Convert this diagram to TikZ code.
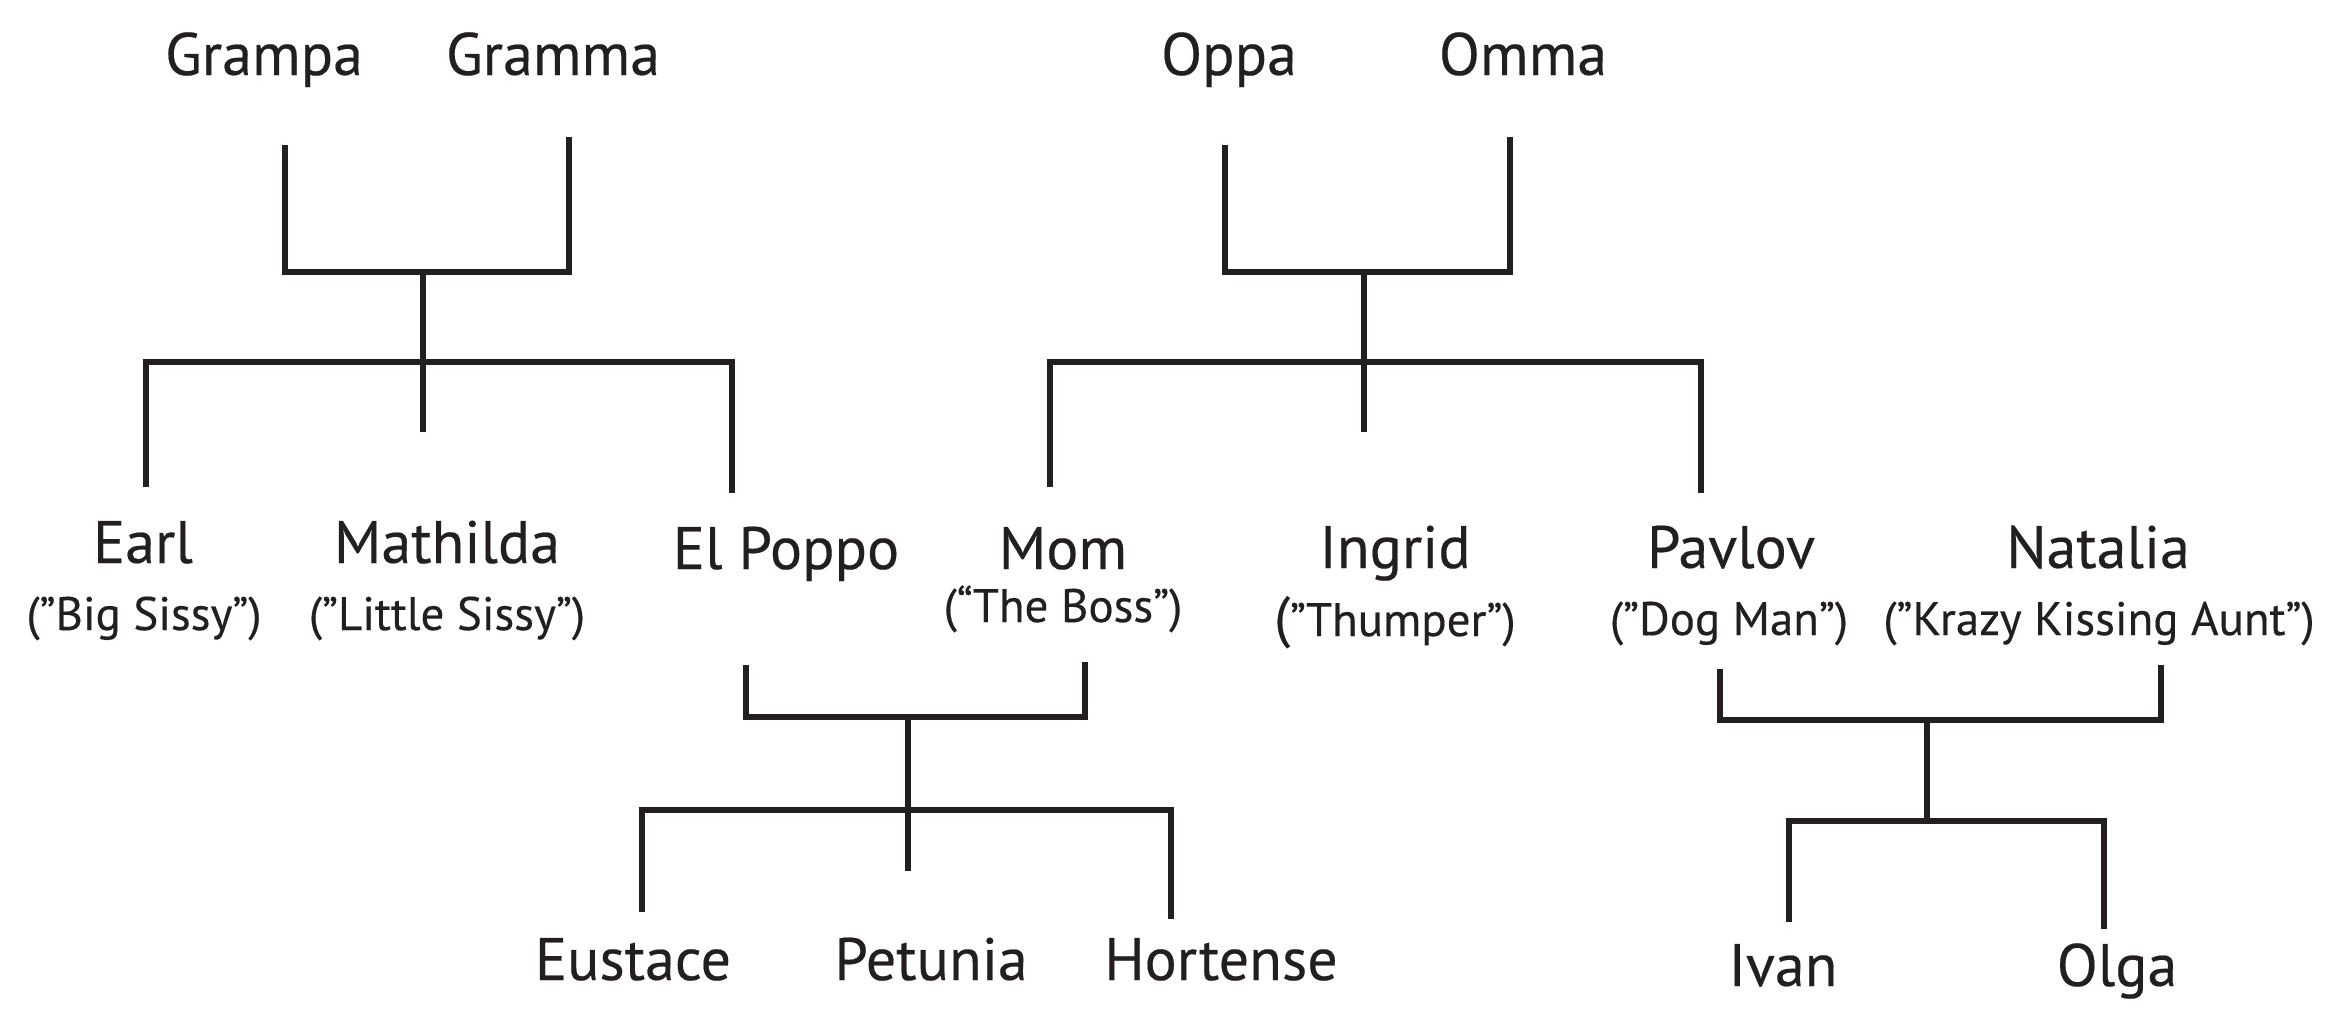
\documentclass[tikz,border=0pt]{standalone}
\usepackage{fontspec}
\setmainfont{PT Sans}[FakeBold=0.3]
\definecolor{ink}{HTML}{231F20}
\begin{document}
\begin{tikzpicture}[x=1pt,y=-1pt,
  person/.style={inner sep=0pt, anchor=base, font=\fontsize{60}{60}\selectfont, text=ink},
  nick/.style={inner sep=0pt, anchor=base, font=\fontsize{47}{47}\selectfont, text=ink},
  link/.style={draw=ink, line width=5.5pt, line cap=butt, line join=miter}]
\useasboundingbox (0,0) rectangle (2338,1020);
\fill[white] (0,0) rectangle (2338,1020);

% ---------- texts ----------
\node[person] (grampa) at (264,75) {Grampa};
\node[person] (gramma) at (553,75) {Gramma};
\node[person] (oppa) at (1229,75) {Oppa};
\node[person] (omma) at (1523,75) {Omma};

\node[person] (earl) at (143,563) {Earl};
\node[nick] (earln) at (144,630) {(”Big Sissy”)};
\node[person] (mathilda) at (447,563) {Mathilda};
\node[nick] (mathn) at (447,630) {(”Little Sissy”)};
\node[person] (elpoppo) at (786,569) {El Poppo};
\node[person] (mom) at (1063,569) {Mom};
\node[nick] (momn) at (1063,622) {(“The Boss”)};
\node[person] (ingrid) at (1395,568) {Ingrid};
\node[nick] (ingridn) at (1395,636) {{\fontsize{56}{56}\selectfont(}”Thumper”)};
\node[person] (pavlov) at (1731,568) {Pavlov};
\node[nick] (pavlovn) at (1729,635) {(”Dog Man”)};
\node[person] (natalia) at (2098,568) {Natalia};
\node[nick] (natalian) at (2099,635) {(”Krazy Kissing Aunt”)};

\node[person] (eustace) at (633,980) {Eustace};
\node[person] (petunia) at (931,980) {Petunia};
\node[person] (hortense) at (1221,980) {Hortense};
\node[person] (ivan) at (1783,986) {Ivan};
\node[person] (olga) at (2117,986) {Olga};

% ---------- family 1: Grampa & Gramma ----------
\coordinate (g1L) at (285,145);
\coordinate (g1R) at (569,137);
\coordinate (g1M) at (423,272);
\coordinate (g1S) at (423,432);
\coordinate (g1A) at (146,487);
\coordinate (g1B) at (732,493);
\draw[link] (g1L) |- (g1M) -| (g1R);
\draw[link] (g1M) -- (g1S);
\draw[link] (g1A) |- (423,362) -| (g1B);

% ---------- family 2: Oppa & Omma ----------
\coordinate (g2L) at (1225,145);
\coordinate (g2R) at (1510,137);
\coordinate (g2M) at (1364,272);
\coordinate (g2S) at (1364,432);
\coordinate (g2A) at (1050,487);
\coordinate (g2B) at (1701,493);
\draw[link] (g2L) |- (g2M) -| (g2R);
\draw[link] (g2M) -- (g2S);
\draw[link] (g2A) |- (1364,362) -| (g2B);

% ---------- family 3: El Poppo & Mom ----------
\coordinate (g3L) at (746,665);
\coordinate (g3R) at (1085,662);
\coordinate (g3M) at (908,717);
\coordinate (g3S) at (908,871);
\coordinate (g3A) at (642,912);
\coordinate (g3B) at (1171,919);
\draw[link] (g3L) |- (g3M) -| (g3R);
\draw[link] (g3M) -- (g3S);
\draw[link] (g3A) |- (908,810) -| (g3B);

% ---------- family 4: Pavlov & Natalia ----------
\coordinate (g4L) at (1720,669);
\coordinate (g4R) at (2161,665);
\coordinate (g4M) at (1927,720);
\coordinate (g4S) at (1927,821);
\coordinate (g4A) at (1789,922);
\coordinate (g4B) at (2104,929);
\draw[link] (g4L) |- (g4M) -| (g4R);
\draw[link] (g4M) -- (g4S);
\draw[link] (g4A) |- (g4S) -| (g4B);
\end{tikzpicture}
\end{document}
